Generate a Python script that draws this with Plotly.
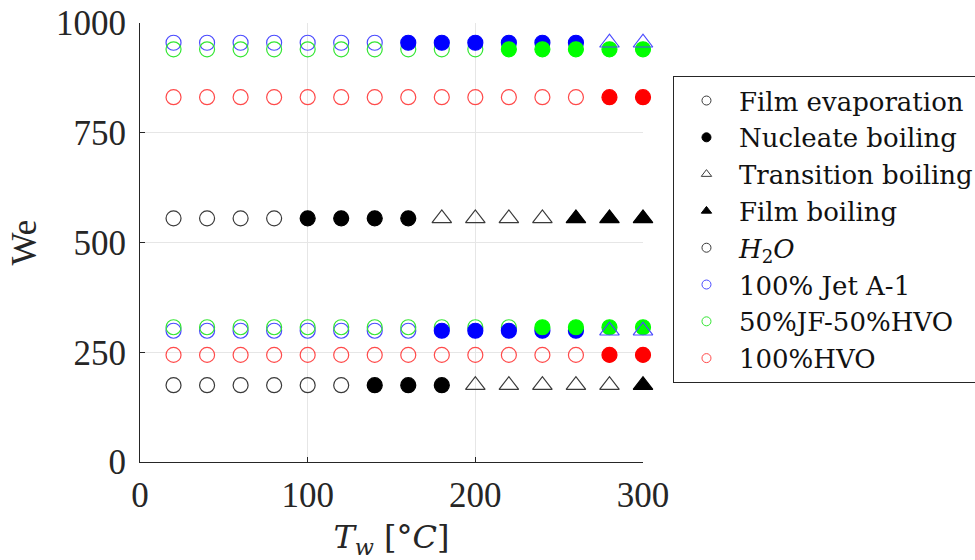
import plotly.graph_objects as go

# Wall temperature (deg C)
T = [20, 40, 60, 80, 100, 120, 140, 160, 180, 200, 220, 240, 260, 280, 300]

# Weber numbers (two impact conditions per fluid)
we_h2o_hi = [555, 555, 555, 555, 555, 555, 555, 555, 555, 555, 555, 555, 555, 555, 555]
we_h2o_lo = [175, 175, 175, 175, 175, 175, 175, 175, 175, 175, 175, 175, 175, 175, 175]
we_jet_hi = [955, 955, 955, 955, 955, 955, 955, 955, 955, 955, 955, 955, 955, 955, 955]
we_jet_lo = [299, 299, 299, 299, 299, 299, 299, 299, 299, 299, 299, 299, 299, 299, 299]
we_mix_hi = [940, 940, 940, 940, 940, 940, 940, 940, 940, 940, 940, 940, 940, 940, 940]
we_mix_lo = [307, 307, 307, 307, 307, 307, 307, 307, 307, 307, 307, 307, 307, 307, 307]
we_hvo_hi = [831, 831, 831, 831, 831, 831, 831, 831, 831, 831, 831, 831, 831, 831, 831]
we_hvo_lo = [244, 244, 244, 244, 244, 244, 244, 244, 244, 244, 244, 244, 244, 244, 244]

# Regimes: FE film evaporation, NB nucleate boiling, TB transition boiling, FB film boiling
reg_h2o_hi = ["FE"]*4 + ["NB"]*4 + ["TB"]*4 + ["FB"]*3
reg_h2o_lo = ["FE"]*6 + ["NB"]*3 + ["TB"]*5 + ["FB"]*1
reg_jet_hi = ["FE"]*7 + ["NB"]*6 + ["TB"]*2
reg_jet_lo = ["FE"]*8 + ["NB"]*5 + ["TB"]*2
reg_mix_hi = ["FE"]*10 + ["NB"]*5
reg_mix_lo = ["FE"]*11 + ["NB"]*4
reg_hvo_hi = ["FE"]*13 + ["NB"]*2
reg_hvo_lo = ["FE"]*13 + ["NB"]*2

fluid_names = ["<i>H</i><sub>2</sub><i>O</i>", "100% Jet A-1", "50%JF-50%HVO", "100%HVO"]
open_colors = ["#3a3a3a", "#4a4aff", "#33e633", "#ff4a4a"]
solid_colors = ["#000000", "#0000ff", "#00ff00", "#ff0000"]

series = [
    (0, we_h2o_hi, reg_h2o_hi), (0, we_h2o_lo, reg_h2o_lo),
    (1, we_jet_hi, reg_jet_hi), (1, we_jet_lo, reg_jet_lo),
    (2, we_mix_hi, reg_mix_hi), (2, we_mix_lo, reg_mix_lo),
    (3, we_hvo_hi, reg_hvo_hi), (3, we_hvo_lo, reg_hvo_lo),
]

regime_style = {
    "FE": ("circle-open", False, 15),
    "NB": ("circle", True, 15),
    "TB": ("triangle-up-open", False, 17),
    "FB": ("triangle-up", True, 17),
}

fig = go.Figure()
for reg in ["FE", "NB", "TB", "FB"]:
    sym, filled, msize = regime_style[reg]
    for fi, we, regs in series:
        xs = [t for t, r in zip(T, regs) if r == reg]
        ys = [w for w, r in zip(we, regs) if r == reg]
        if not xs:
            continue
        col = solid_colors[fi] if filled else open_colors[fi]
        fig.add_trace(go.Scatter(
            x=xs, y=ys, mode="markers", showlegend=False, cliponaxis=False,
            marker=dict(symbol=sym, size=msize, color=col,
                        line=dict(color=col, width=1.2)),
        ))

# Legend entries
legend_items = [
    ("Film evaporation", "circle-open", "#3a3a3a"),
    ("Nucleate boiling", "circle", "#000000"),
    ("Transition boiling", "triangle-up-open", "#3a3a3a"),
    ("Film boiling", "triangle-up", "#000000"),
]
for name, sym, col in legend_items:
    fig.add_trace(go.Scatter(x=[None], y=[None], mode="markers", name=name,
                             marker=dict(symbol=sym, size=9, color=col, line=dict(color=col, width=1))))
for name, col in zip(fluid_names, open_colors):
    fig.add_trace(go.Scatter(x=[None], y=[None], mode="markers", name=name,
                             marker=dict(symbol="circle-open", size=9, color=col, line=dict(color=col, width=1))))

axis_font = dict(family="Liberation Serif", size=35, color="#262626")
fig.update_layout(
    width=975, height=560,
    margin=dict(l=140, r=332, t=23, b=98, autoexpand=False),
    paper_bgcolor="white", plot_bgcolor="white",
    font=dict(family="Liberation Serif", color="#262626"),
    xaxis=dict(range=[0, 300], tickvals=[0, 100, 200, 300], showgrid=True, gridcolor="#e6e6e6",
               showline=True, linecolor="#262626", linewidth=1, ticks="inside", ticklen=5,
               tickcolor="#262626", tickfont=axis_font, zeroline=False, ticklabelstandoff=2,
               title=dict(text="<i>T</i><sub><i>w</i></sub> [°<i>C</i>]",
                          font=dict(family="DejaVu Serif", size=32, color="#262626"), standoff=16)),
    yaxis=dict(range=[0, 1000], tickvals=[0, 250, 500, 750, 1000], showgrid=True, gridcolor="#e6e6e6",
               showline=True, linecolor="#262626", linewidth=1, ticks="inside", ticklen=5,
               tickcolor="#262626", tickfont=axis_font, zeroline=False, ticklabelstandoff=6,
               title=dict(text="We", font=dict(family="Liberation Serif", size=35, color="#262626"), standoff=8)),
    legend=dict(x=1.0596, y=0.879, xanchor="left", yanchor="top",
                bordercolor="#262626", borderwidth=1, bgcolor="white",
                font=dict(family="DejaVu Serif", size=26, color="#111111"),
                itemwidth=55),
)

fig.write_html("out.html")
